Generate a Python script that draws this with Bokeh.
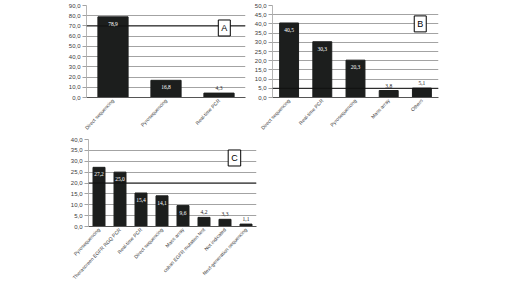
from bokeh.plotting import figure
from bokeh.models import (ColumnDataSource, LabelSet, Label, Span, Range1d,
                          FixedTicker, CustomJSTickFormatter)
from bokeh.layouts import column, row
from bokeh.embed import file_html
from bokeh.resources import INLINE

# ---- data ----
cats_a = ["Direct sequencing", "Pyrosequencing", "Real-time PCR"]
vals_a = [78.9, 16.8, 4.3]

cats_b = ["Direct sequencing", "Real-time PCR", "Pyrosequencing", "Mass array", "Others"]
vals_b = [40.5, 30.3, 20.3, 3.8, 5.1]

cats_c = ["Pyrosequencing", "Therascreen EGFR RGQ PCR", "Real-time PCR",
          "Direct sequencing", "Mass array", "cobas EGFR mutation test",
          "Not indicated", "Next-generation sequencing"]
vals_c = [27.2, 25.0, 15.4, 14.1, 9.6, 4.2, 3.3, 1.1]

ticks_a = [0, 10, 20, 30, 40, 50, 60, 70, 80, 90]
ticks_b = [0, 5, 10, 15, 20, 25, 30, 35, 40, 45, 50]
ticks_c = [0, 5, 10, 15, 20, 25, 30, 35, 40]

BAR = "#1c1e1d"
GRID = "#a3a3a3"
TXT = "#3a3a3a"
FONT = "Liberation Sans"


def panel(cats, vals, ticks, ymax, w, h, bl, br, bt, bb, letter, box_x, box_y, dark):
    p = figure(x_range=cats, y_range=Range1d(0, ymax), width=w, height=h,
               output_backend="svg", toolbar_location=None,
               min_border_left=bl, min_border_right=br,
               min_border_top=bt, min_border_bottom=bb)
    p.outline_line_color = None
    p.background_fill_color = "white"
    p.border_fill_color = "white"
    fmt = CustomJSTickFormatter(code="return tick.toFixed(1).replace('.', ',');")
    src = ColumnDataSource(dict(
        x=cats, top=vals,
        lab=[("%.1f" % v).replace(".", ",") for v in vals],
        col=["#ffffff" if v / ymax > 0.15 else "#222222" for v in vals],
        off=[-7 if v / ymax > 0.15 else 5 for v in vals],
    ))
    # y axis
    p.yaxis.ticker = FixedTicker(ticks=ticks)
    p.yaxis.formatter = fmt
    p.yaxis.major_label_text_font_size = "6px"
    p.yaxis.major_label_text_font = FONT
    p.yaxis.major_label_text_color = TXT
    p.yaxis.major_label_standoff = 2
    p.yaxis.major_tick_out = 4
    p.yaxis.major_tick_in = 0
    p.yaxis.major_tick_line_color = GRID
    p.yaxis.minor_tick_line_color = None
    p.yaxis.axis_line_color = "#b5b5b5"
    # x axis
    p.xaxis.major_label_orientation = 0.82
    p.xaxis.major_label_text_align = "right"
    p.xaxis.major_label_text_baseline = "middle"
    p.xaxis.major_label_text_font_size = "5px"
    p.xaxis.major_label_text_font = FONT
    p.xaxis.major_label_text_color = TXT
    p.xaxis.major_label_standoff = 2
    p.xaxis.major_tick_line_color = None
    p.xaxis.major_tick_out = 0
    p.xaxis.major_tick_in = 0
    p.xaxis.axis_line_color = "#555555"
    # grid
    p.xgrid.grid_line_color = None
    p.ygrid.ticker = FixedTicker(ticks=ticks)
    p.ygrid.grid_line_color = GRID
    p.ygrid.grid_line_width = 1
    p.add_layout(Span(location=dark, dimension="width", line_color="#111111", line_width=1))
    p.vbar(x="x", top="top", width=0.57, source=src, fill_color=BAR, line_color=BAR)
    p.add_layout(LabelSet(x="x", y="top", text="lab", source=src, y_offset="off",
                          text_align="center", text_baseline="middle",
                          text_font_size="5.5px", text_font=FONT, text_color="col"))
    p.add_layout(Label(x=box_x, y=box_y, text=letter, text_font=FONT,
                       text_font_size="9px", text_color="black",
                       text_align="center", text_baseline="middle",
                       border_line_color="black", border_line_width=1,
                       background_fill_color="white", padding=3))
    return p


pa = panel(cats_a, vals_a, ticks_a, 90, 250, 135, 86, 5, 5, 37, "A", 2.6, 68, 70)
pb = panel(cats_b, vals_b, ticks_b, 50, 258, 135, 22, 70, 5, 38, "B", 4.45, 40, 5)
pc = panel(cats_c, vals_c, ticks_c, 40, 262, 150, 88, 6, 4, 56, "C", 6.95, 31.5, 20)

layout = column(row(pa, pb), pc)
open("out.html", "w").write(file_html(layout, INLINE))
